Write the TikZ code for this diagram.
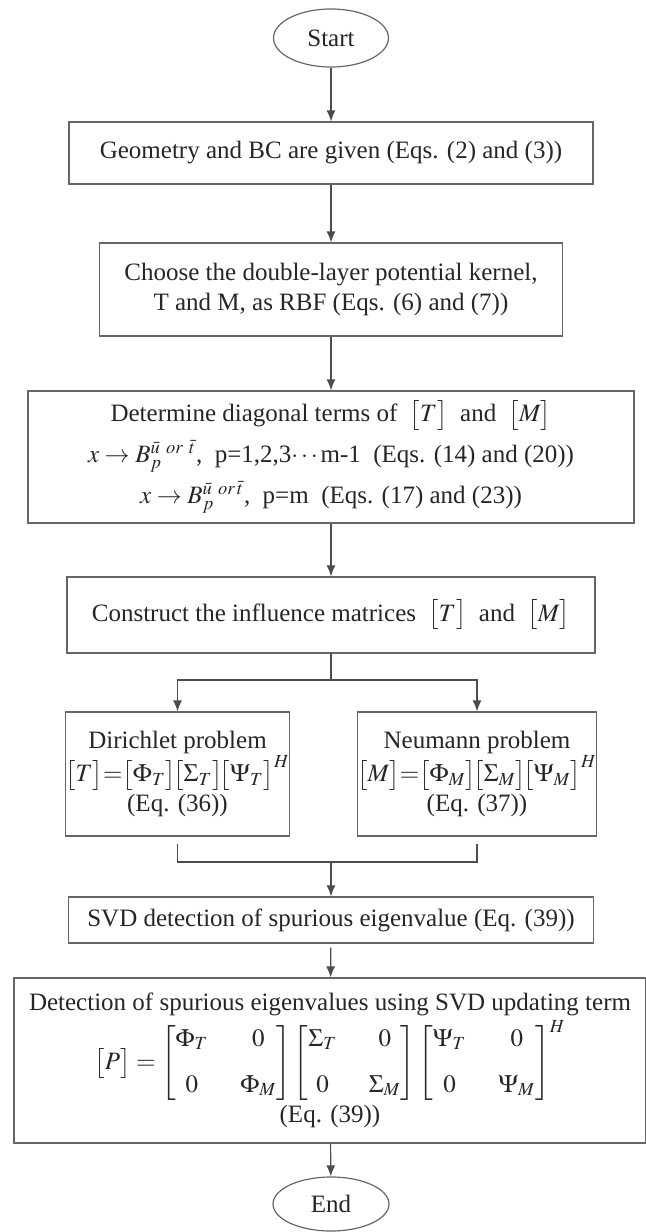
\documentclass[tikz,border=0pt]{standalone}
\usepackage{amsmath}
\usepackage{mathptmx}
\usepackage[no-math]{fontspec}
\setmainfont{Liberation Serif}
\usetikzlibrary{shapes.geometric,arrows.meta}
\begin{document}
\begin{tikzpicture}[x=0.5pt,y=-0.5pt,
	box/.style={rectangle,draw=black!60,line width=0.6pt,inner sep=0pt,align=center,text=black!85,font=\fontsize{12.5}{15}\selectfont},
	oval/.style={ellipse,draw=black!60,line width=0.6pt,inner sep=0pt,text=black!85,font=\fontsize{12.5}{15}\selectfont},
	line/.style={draw=black!70,line width=0.6pt},
	arr/.style={line,-{Latex[length=5.5pt,width=4.5pt]}}]
	\useasboundingbox (0,0) rectangle (646,1232);
	\node[oval,minimum width=57.5pt,minimum height=29pt] (start) at (331,38) {Start};
	\node[box,minimum width=262pt,minimum height=31pt] (geo) at (331,153) {Geometry and BC are given (Eqs. (2) and (3))};
	\node[box,minimum width=231.5pt,minimum height=46.5pt] (ker) at (331,289.5) {Choose the double-layer potential kernel,\\ T and M, as RBF (Eqs. (6) and (7))};
	\node[box,minimum width=303pt,minimum height=66pt,font=\fontsize{12.5}{20.5}\selectfont] (diag) at (331,457)
		{Determine diagonal terms of \ $\bigl[T\bigr]$ \ and \ $\bigl[M\bigr]$\\
		$x\rightarrow B_p^{\bar{u}\ or\ \bar{t}}$,~~p=1,2,3$\cdots$m-1~~(Eqs. (14) and (20))\\
		$x\rightarrow B_p^{\bar{u}\ or\,\bar{t}}$,~~p=m~~(Eqs. (17) and (23))};
	\node[box,minimum width=264pt,minimum height=38pt] (infl) at (331,615) {Construct the influence matrices \ $\bigl[T\bigr]$ \ and \ $\bigl[M\bigr]$};
	\coordinate (split) at (331,680);
	\node[box,minimum width=111.5pt,minimum height=62pt] (dir) at (177.5,774)
		{Dirichlet problem\\ $\bigl[T\bigr]{=}\bigl[\Phi_T\bigr]\!\bigl[\Sigma_T\bigr]\!\bigl[\Psi_T\bigr]^H$\\ (Eq. (36))};
	\node[box,minimum width=113pt,minimum height=62pt] (neu) at (477,774)
		{Neumann problem\\ $\bigl[M\bigr]{=}\bigl[\Phi_M\bigr]\!\bigl[\Sigma_M\bigr]\!\bigl[\Psi_M\bigr]^H$\\ (Eq. (37))};
	\coordinate (join) at (331,862);
	\node[box,minimum width=262.5pt,minimum height=23pt] (svd) at (331,920) {SVD detection of spurious eigenvalue (Eq. (39))};
	\node[box,minimum width=316pt,minimum height=82.5pt] (upd) at (330,1060.5)
		{Detection of spurious eigenvalues using SVD updating term\\[1pt]
		\setlength{\arraycolsep}{8pt}$\bigl[P\bigr]=\begin{bmatrix}\Phi_T & 0\\[8pt] 0 & \Phi_M\end{bmatrix}\begin{bmatrix}\Sigma_T & 0\\[8pt] 0 & \Sigma_M\end{bmatrix}\begin{bmatrix}\Psi_T & 0\\[8pt] 0 & \Psi_M\end{bmatrix}^H$\\[1pt]
		(Eq. (39))};
	\node[oval,minimum width=58pt,minimum height=27pt] (finish) at (331,1204) {End};
	% connectors
	\draw[arr] (start) -- (geo);
	\draw[arr] (geo) -- (ker);
	\draw[arr] (ker) -- (diag);
	\draw[arr] (diag) -- (infl);
	\draw[line] (infl) -- (split);
	\draw[arr] (split) -| (dir);
	\draw[arr] (split) -| (neu);
	\draw[line,shorten <=3.5pt] (dir) |- (join);
	\draw[line,shorten <=3.5pt] (neu) |- (join);
	\draw[arr] (join) -- (svd);
	\draw[arr,shorten <=2pt] (svd) -- (upd);
	\draw[arr] (upd) -- (finish);
\end{tikzpicture}
\end{document}
